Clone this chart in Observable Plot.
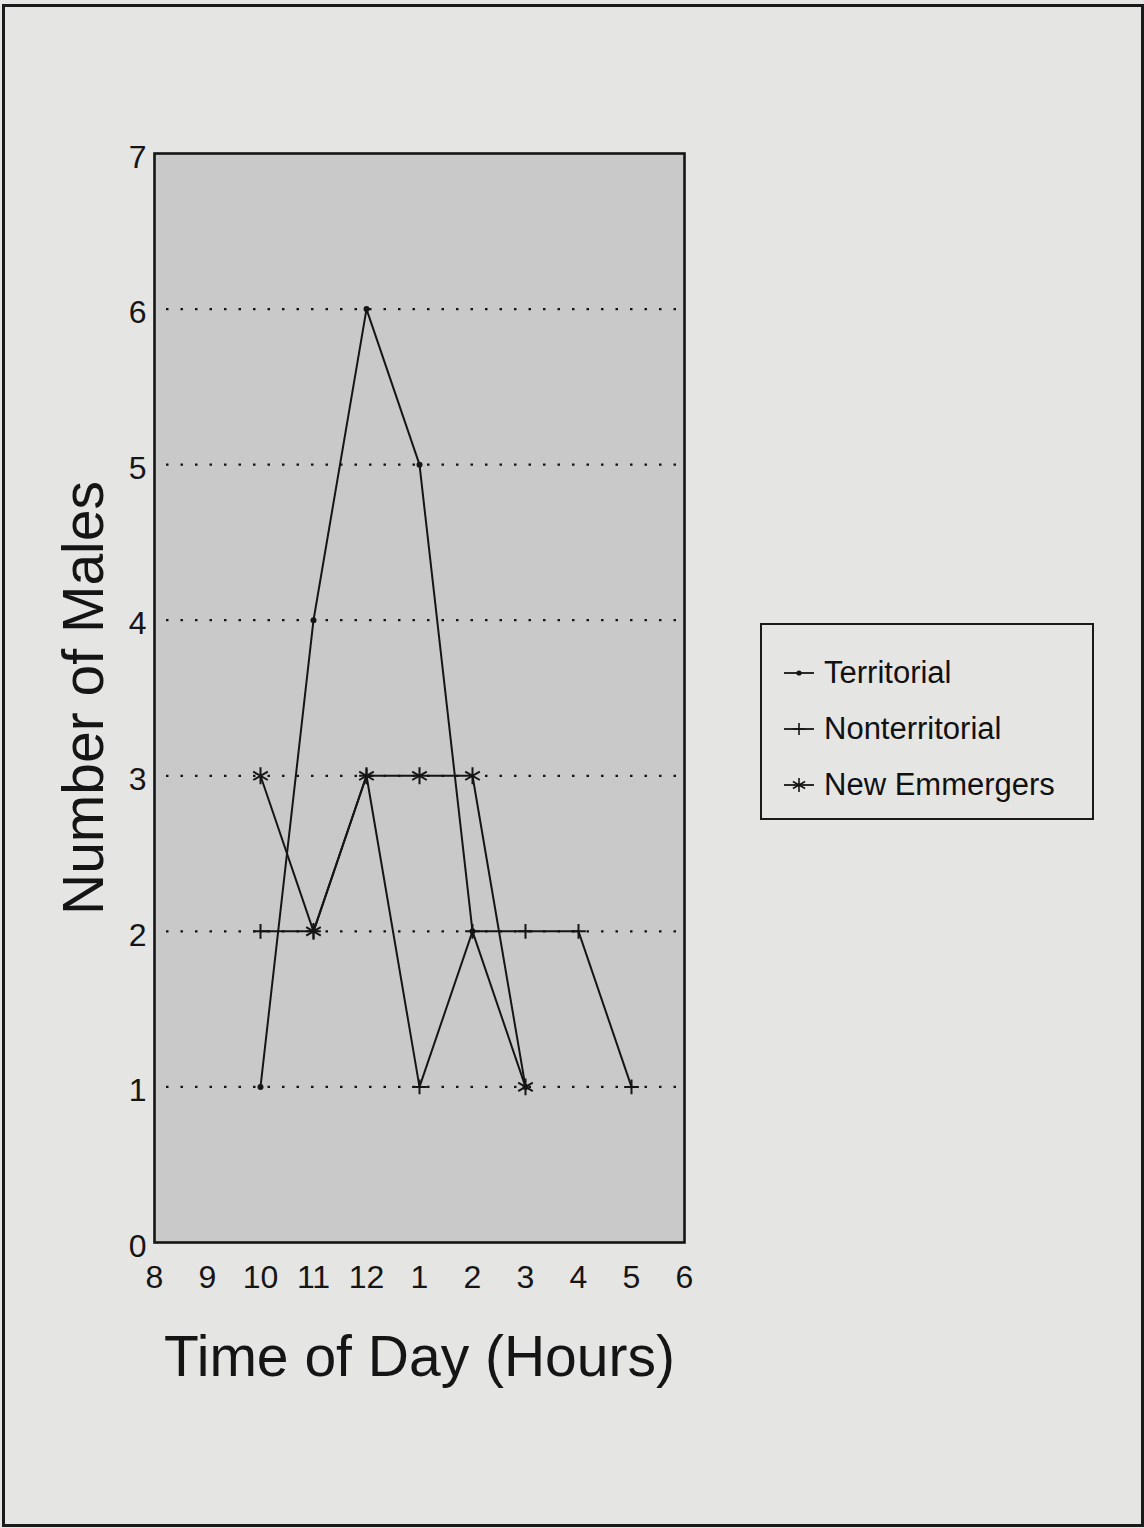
<!DOCTYPE html>
<html>
<head>
<meta charset="utf-8">
<script src="https://cdn.jsdelivr.net/npm/d3@7"></script>
<script src="https://cdn.jsdelivr.net/npm/@observablehq/plot@0.6"></script>
<style>
  html, body { margin: 0; padding: 0; background: #e5e5e3; }
  #page { position: relative; width: 1144px; height: 1528px; overflow: hidden; background: #e5e5e3;
          font-family: "Liberation Sans", Arial, Helvetica, sans-serif; color: #111; }
  #border { position: absolute; left: 2px; top: 4px; width: 1136px; height: 1517px; border: 3px solid #1a1a1a; pointer-events: none; }
  #chart { position: absolute; left: 0; top: 0; }
  #legend { position: absolute; left: 760px; top: 623px; width: 330px; height: 193px; border: 2.5px solid #1a1a1a; }
  .row { position: absolute; left: 20px; height: 40px; display: flex; align-items: center; }
  .row svg { width: 34px; height: 24px; margin-right: 8px; }
  .row span { font-size: 31px; line-height: 40px; white-space: nowrap; }
</style>
</head>
<body>
<div id="page">
  <div id="chart"></div>
  <div id="legend"></div>
  <div id="border"></div>
</div>
<script>
// Tick labels of the x axis (time of day, hours)
const hours = ["8", "9", "10", "11", "12", "1", "2", "3", "4", "5", "6"];
const yTicks = [0, 1, 2, 3, 4, 5, 6, 7];
const gridValues = [1, 2, 3, 4, 5, 6];

// Series
const territorialHours = ["10", "11", "12", "1", "2", "3"];
const territorialValues = [1, 4, 6, 5, 2, 1];

const nonterritorialHours = ["10", "11", "12", "1", "2", "3", "4", "5"];
const nonterritorialValues = [2, 2, 3, 1, 2, 2, 2, 1];

const emmergersHours = ["10", "11", "12", "1", "2", "3"];
const emmergersValues = [3, 2, 3, 3, 3, 1];

const seriesNames = ["Territorial", "Nonterritorial", "New Emmergers"];

const toRows = (hs, vs, name) => hs.map((h, i) => ({hour: h, value: vs[i], series: name}));
const territorial = toRows(territorialHours, territorialValues, seriesNames[0]);
const nonterritorial = toRows(nonterritorialHours, nonterritorialValues, seriesNames[1]);
const emmergers = toRows(emmergersHours, emmergersValues, seriesNames[2]);

const ink = "#151515";
const font = "Liberation Sans, Arial, Helvetica, sans-serif";
const lw = 2;

const chart = Plot.plot({
  width: 1144,
  height: 1528,
  marginLeft: 154,
  marginRight: 460,
  marginTop: 153,
  marginBottom: 286,
  style: {fontFamily: font, background: "transparent", color: ink, overflow: "visible"},
  x: {type: "point", domain: hours, padding: 0, axis: null},
  y: {domain: [0, 7], axis: null},
  marks: [
    Plot.frame({fill: "#c9c9c9", stroke: "none"}),
    Plot.ruleY(gridValues, {stroke: ink, strokeWidth: 2.2, strokeDasharray: "2.5 12", insetLeft: 12}),
    Plot.line(territorial, {x: "hour", y: "value", stroke: ink, strokeWidth: lw}),
    Plot.line(nonterritorial, {x: "hour", y: "value", stroke: ink, strokeWidth: lw}),
    Plot.line(emmergers, {x: "hour", y: "value", stroke: ink, strokeWidth: lw}),
    Plot.dot(territorial, {x: "hour", y: "value", r: 3, fill: ink, stroke: "none"}),
    Plot.dot(nonterritorial, {x: "hour", y: "value", symbol: "plus", r: 4.8, stroke: ink, strokeWidth: lw}),
    Plot.dot(emmergers, {x: "hour", y: "value", symbol: "asterisk", r: 8, stroke: ink, strokeWidth: lw}),
    Plot.frame({stroke: ink, strokeWidth: 2.6, fill: "none"}),
    Plot.axisY(yTicks, {tickSize: 0, tickPadding: 8, fontSize: 32, dy: 4, label: null, fill: ink, tickFormat: d3.format("d")}),
    Plot.axisX(hours, {tickSize: 0, tickPadding: 23, fontSize: 32, label: null, fill: ink}),
    Plot.text(["Number of Males"], {frameAnchor: "left", dx: -70, rotate: -90, fontSize: 57, fill: ink, textAnchor: "middle", lineAnchor: "middle"}),
    Plot.text(["Time of Day (Hours)"], {frameAnchor: "bottom", dy: 115, fontSize: 57, fill: ink, textAnchor: "middle", lineAnchor: "middle"})
  ]
});
document.getElementById("chart").appendChild(chart);

// Legend
const legend = document.getElementById("legend");
const rowTops = [28, 84, 140];
const symbols = [null, d3.symbolPlus, d3.symbolAsterisk];
const symbolSizes = [0, Math.PI * 4.8 * 4.8, Math.PI * 8 * 8];
seriesNames.forEach((name, i) => {
  const row = document.createElement("div");
  row.className = "row";
  row.style.top = rowTops[i] + "px";
  const svg = d3.create("svg").attr("viewBox", "0 0 34 24");
  svg.append("line").attr("x1", 2).attr("x2", 32).attr("y1", 12).attr("y2", 12)
     .attr("stroke", ink).attr("stroke-width", 1.8);
  if (i === 0) {
    svg.append("circle").attr("cx", 17).attr("cy", 12).attr("r", 2.6).attr("fill", ink);
  } else {
    svg.append("path").attr("transform", "translate(17,12)")
       .attr("d", d3.symbol(symbols[i], symbolSizes[i] * 0.7)())
       .attr("fill", "none").attr("stroke", ink).attr("stroke-width", 1.6);
  }
  row.appendChild(svg.node());
  const span = document.createElement("span");
  span.textContent = name;
  row.appendChild(span);
  legend.appendChild(row);
});
</script>
</body>
</html>
